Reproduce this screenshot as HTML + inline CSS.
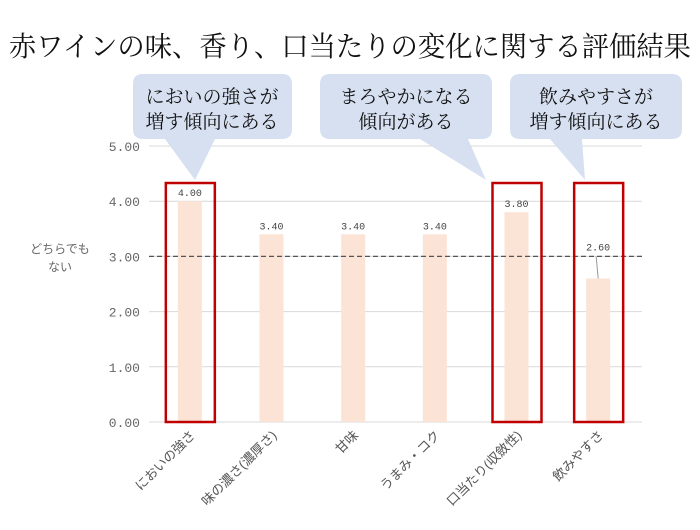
<!DOCTYPE html>
<html><head><meta charset="utf-8">
<style>
body{margin:0;background:#fff;}
svg text{font-family:"Liberation Sans","Noto Sans CJK JP",sans-serif;}
.serif{font-family:"Liberation Serif","Noto Serif CJK SC",serif !important;}
</style></head>
<body>
<svg width="700" height="525" viewBox="0 0 700 525" xmlns="http://www.w3.org/2000/svg">
<text class="serif" x="350" y="56" text-anchor="middle" font-size="28" fill="#111" textLength="682" lengthAdjust="spacingAndGlyphs">赤ワインの味、香り、口当たりの変化に関する評価結果</text>
<g id="grid"></g>
<g id="bars"></g>
<text x="60" y="253" text-anchor="middle" font-size="12" fill="#666">どちらでも</text>
<text x="60" y="271" text-anchor="middle" font-size="12" fill="#666">ない</text>
<g>
<path d="M143,74 H282 Q292,74 292,84 V129 Q292,139 282,139 H215 L195,180 L165,139 H143 Q133,139 133,129 V84 Q133,74 143,74 Z" fill="#d6e0f1"/>
<text class="serif" x="212" y="103" text-anchor="middle" font-size="19" fill="#111">においの強さが</text>
<text class="serif" x="212" y="128" text-anchor="middle" font-size="19" fill="#111">増す傾向にある</text>
</g>
<g>
<path d="M330,74 H482 Q492,74 492,84 V129 Q492,139 482,139 H468 L486,180 L420,139 H330 Q320,139 320,129 V84 Q320,74 330,74 Z" fill="#d6e0f1"/>
<text class="serif" x="406" y="103" text-anchor="middle" font-size="19" fill="#111">まろやかになる</text>
<text class="serif" x="406" y="128" text-anchor="middle" font-size="19" fill="#111">傾向がある</text>
</g>
<g>
<path d="M520,74 H672 Q682,74 682,84 V129 Q682,139 672,139 H582 L585,180 L550,139 H520 Q510,139 510,129 V84 Q510,74 520,74 Z" fill="#d6e0f1"/>
<text class="serif" x="596" y="103" text-anchor="middle" font-size="19" fill="#111">飲みやすさが</text>
<text class="serif" x="596" y="128" text-anchor="middle" font-size="19" fill="#111">増す傾向にある</text>
</g>
</svg>
<script>
const categories=["においの強さ","味の濃さ(濃厚さ)","甘味","うまみ・コク","口当たり(収斂性)","飲みやすさ"];
const values=[4.00,3.40,3.40,3.40,3.80,2.60];
const valueLabels=["4.00","3.40","3.40","3.40","3.80","2.60"];
const yTicks=[0,1,2,3,4,5];
const highlighted=[0,4,5];
const NS="http://www.w3.org/2000/svg";
const x0=149,x1=639,y0=422,yTop=146;
const bw=(x1-x0)/categories.length;
const y=v=>y0-(v/5)*(y0-yTop);
const xc=i=>x0+bw*(i+0.5);
function mk(tag,attrs,parent){const e=document.createElementNS(NS,tag);for(const k in attrs)e.setAttribute(k,attrs[k]);parent.appendChild(e);return e;}
const grid=document.getElementById('grid'),bars=document.getElementById('bars');
yTicks.forEach(t=>{
 const l=mk('line',{x1:x0,x2:x1+3,y1:y(t),y2:y(t),stroke:'#d9d9d9','stroke-width':1},grid);
 
 
 const tx=mk('text',{x:140,y:y(t)+5,'text-anchor':'end','font-size':13,fill:'#666',style:"font-family:'Liberation Mono',monospace"},grid);
 tx.textContent=t.toFixed(2);
 
 
});
categories.forEach((c,i)=>{
 const r=mk('rect',{x:xc(i)-12,y:y(values[i]),width:24,height:y0-y(values[i]),fill:'#fbe4d6'},bars);
 
 
 const low=values[i]<3;
 const off=low?-28:-5;
 const t=mk('text',{x:xc(i),y:y(values[i])+off,'text-anchor':'middle','font-size':10,fill:'#444',style:"font-family:'Liberation Mono',monospace"},bars);
 t.textContent=valueLabels[i];
 
 
 if(low){const ln=mk('line',{x1:xc(i)-2,y1:y(values[i])-22,x2:xc(i),y2:y(values[i]),stroke:'#999'},bars);
  
  }
 const lab=mk('text',{transform:`translate(${xc(i)+6},${y0+14}) rotate(-45)`,'text-anchor':'end','font-size':13,fill:'#555'},bars);
 lab.textContent=c;
 
 
});
const ref=mk('line',{x1:x0,x2:x1+3,y1:y(3),y2:y(3),stroke:'#555','stroke-width':1.3,'stroke-dasharray':'5,3'},bars);


highlighted.forEach(i=>{
 const b=mk('rect',{x:xc(i)-24,y:183,width:49,height:y0-183,fill:'none',stroke:'#c00000','stroke-width':2.5},bars);
 
 
});
</script>
</body></html>
